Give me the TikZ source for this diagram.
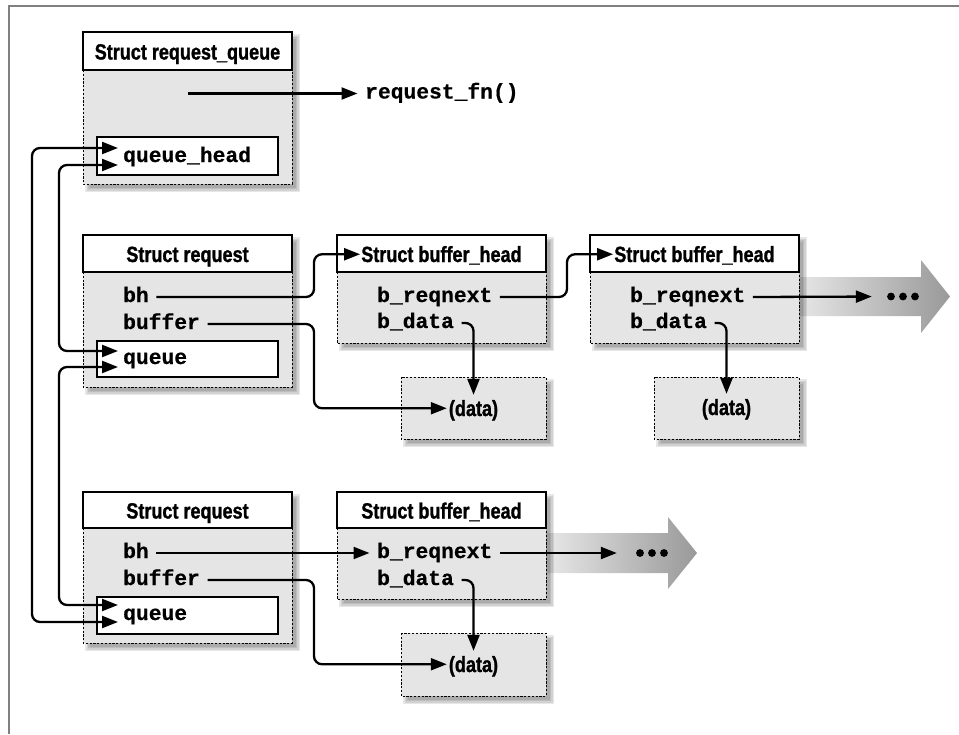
\documentclass[tikz,border=0pt]{standalone}
\usepackage{fontspec}
\newfontfamily\hdrfont{Liberation Sans Bold}[FakeStretch=0.82,FakeBold=1.2]
\newfontfamily\codefont{Liberation Mono Bold}[FakeBold=0.6]
\usetikzlibrary{arrows.meta,calc}
\newcommand\boxshadow[4]{%
  \foreach \e in {3,1.5,0,-1.5}{\fill[black,opacity=0.095] (#1+5-\e,#2+5-\e) rectangle (#3+5+\e,#4+5+\e);}}
\begin{document}
\begin{tikzpicture}[x=1pt,y=-1pt,
  hdrbox/.style={draw=black,line width=1.3pt,fill=white},
  bodybox/.style={draw=black,line width=0.9pt,dash pattern=on 2.2pt off 1.6pt,fill=black!10},
  innerbox/.style={draw=black,line width=1.1pt,fill=white},
  title/.style={font=\hdrfont\fontsize{22}{26}\selectfont,anchor=base,inner xsep=1pt,inner ysep=0pt,text height=15.5pt,text depth=0pt},
  datatext/.style={title,inner xsep=2pt,inner ysep=5.5pt},
  code/.style={font=\codefont\fontsize{21.3}{24}\selectfont,anchor=base west,inner xsep=7.5pt,inner ysep=0pt,text height=10pt,text depth=0pt},
  tip/.tip={Triangle[length=16pt,width=12pt]},
  link/.style={line width=2.3pt,rounded corners=8pt,-tip},
  dbl/.style={line width=2.3pt,rounded corners=8pt,tip-tip},
  bigarrow/.style={left color=black!8,right color=black!40},
  dotsnode/.style={minimum width=36pt,minimum height=10pt,inner sep=0pt,
    path picture={\fill[black] (path picture bounding box.center) circle (3.9pt) ++(-12pt,0) circle (3.9pt) ++(24pt,0) circle (3.9pt);}},
  frameline/.style={draw=black!50,line width=1.8pt}]
\useasboundingbox (0,0) rectangle (959,734);
\fill[white] (0,0) rectangle (959,734);
\draw[frameline] (9,734) -- (9,6) -- (959,6);

% big gray arrows
\shade[bigarrow] (790,277) -- (921,277) -- (921,260) -- (950,296.5) -- (921,333) -- (921,316) -- (790,316) -- cycle;
\shade[bigarrow] (540,533) -- (668,533) -- (668,517) -- (697,553) -- (668,589) -- (668,573) -- (540,573) -- cycle;

% shadows
\boxshadow{83}{32}{292}{184}
\boxshadow{83}{235}{292}{387}
\boxshadow{83}{492}{292}{643}
\boxshadow{337}{235}{546}{343}
\boxshadow{590}{235}{799}{343}
\boxshadow{337}{492}{546}{599}
\boxshadow{401}{377}{546}{439}
\boxshadow{654}{377}{799}{439}
\boxshadow{401}{633}{546}{696}

% struct request_queue
\draw[bodybox] (83,70) rectangle (292,184);
\draw[hdrbox] (83,32) rectangle (292,70);
\draw[innerbox] (97,137) rectangle (278,175);
% struct request 1
\draw[bodybox] (83,272) rectangle (292,387);
\draw[hdrbox] (83,235) rectangle (292,272);
\draw[innerbox] (97,341) rectangle (278,377);
% struct request 2
\draw[bodybox] (83,528) rectangle (292,643);
\draw[hdrbox] (83,492) rectangle (292,528);
\draw[innerbox] (97,597) rectangle (278,634);
% buffer heads
\draw[bodybox] (337,272) rectangle (546,343);
\draw[hdrbox] (337,235) rectangle (546,272);
\draw[bodybox] (590,272) rectangle (799,343);
\draw[hdrbox] (590,235) rectangle (799,272);
\draw[bodybox] (337,528) rectangle (546,599);
\draw[hdrbox] (337,492) rectangle (546,528);
% data boxes
\draw[bodybox] (401,377) rectangle (546,439);
\draw[bodybox] (654,377) rectangle (799,439);
\draw[bodybox] (401,633) rectangle (546,696);

% titles
\node[title] (rqt) at (187.5,59.5) {Struct request\_queue};
\node[title] (r1t) at (187.5,262) {Struct request};
\node[title] (b1t) at (441.5,262) {Struct buffer\_head};
\node[title] (b2t) at (694.5,262) {Struct buffer\_head};
\node[title] (r2t) at (187.5,518.5) {Struct request};
\node[title] (b3t) at (441.5,518.5) {Struct buffer\_head};
\node[datatext] (d1) at (473.5,416) {(data)};
\node[datatext] (d2) at (726.5,415) {(data)};
\node[datatext] (d3) at (473.5,672) {(data)};

% code fields
\node[code] (fn) at (357.5,98.5) {request\_fn()};
\node[code] (qh) at (115.5,162) {queue\_head};
\node[code] (r1bh) at (115.5,302) {bh};
\node[code] (r1buf) at (115.5,329) {buffer};
\node[code] (r1q) at (115.5,364) {queue};
\node[code] (b1next) at (369.5,302) {b\_reqnext};
\node[code] (b1data) at (369.5,328) {b\_data};
\node[code] (b2next) at (622.5,302) {b\_reqnext};
\node[code] (b2data) at (622.5,328) {b\_data};
\node[code] (r2bh) at (115.5,558) {bh};
\node[code] (r2buf) at (115.5,585) {buffer};
\node[code] (r2q) at (115.5,620) {queue};
\node[code] (b3next) at (369.5,558) {b\_reqnext};
\node[code] (b3data) at (369.5,585) {b\_data};
\node[dotsnode] (dots2) at (903,296.5) {};
\node[dotsnode] (dots3) at (652,553) {};

% connector end points and lanes
\coordinate (rqstart) at (188,93.5);
\coordinate (qhA) at (118,148);
\coordinate (qhB) at (118,165);
\coordinate (r1qA) at (118,351);
\coordinate (r1qB) at (118,367);
\coordinate (r2qA) at (118,605);
\coordinate (r2qB) at (118,622);
\coordinate (outer) at (32,0);
\coordinate (inner) at (59,0);
\coordinate (laneA) at (314,0);
\coordinate (laneB) at (567,0);

% connectors
\draw[link] (rqstart) -- (fn.west);
\draw[dbl] (qhA) -- (qhA -| outer) |- (r2qB);
\draw[dbl] (qhB) -- (qhB -| inner) |- (r1qA);
\draw[dbl] (r1qB) -- (r1qB -| inner) |- (r2qA);
\draw[link] (r1bh.east) -- (r1bh.east -| laneA) |- (b1t.west);
\draw[link] (r1buf.east) -- (r1buf.east -| laneA) |- (d1.west);
\draw[link] (b1data.east) -| (d1.north);
\draw[link] (b1next.east) -- (b1next.east -| laneB) |- (b2t.west);
\draw[link] (b2data.east) -| (d2.north);
\draw[link,shorten >=13pt] (b2next.east) -- (dots2.west);
\draw[link] (r2bh.east) -- (b3next.west);
\draw[link] (r2buf.east) -- (r2buf.east -| laneA) |- (d3.west);
\draw[link] (b3data.east) -| (d3.north);
\draw[link,shorten >=17pt] (b3next.east) -- (dots3.west);
\end{tikzpicture}
\end{document}
